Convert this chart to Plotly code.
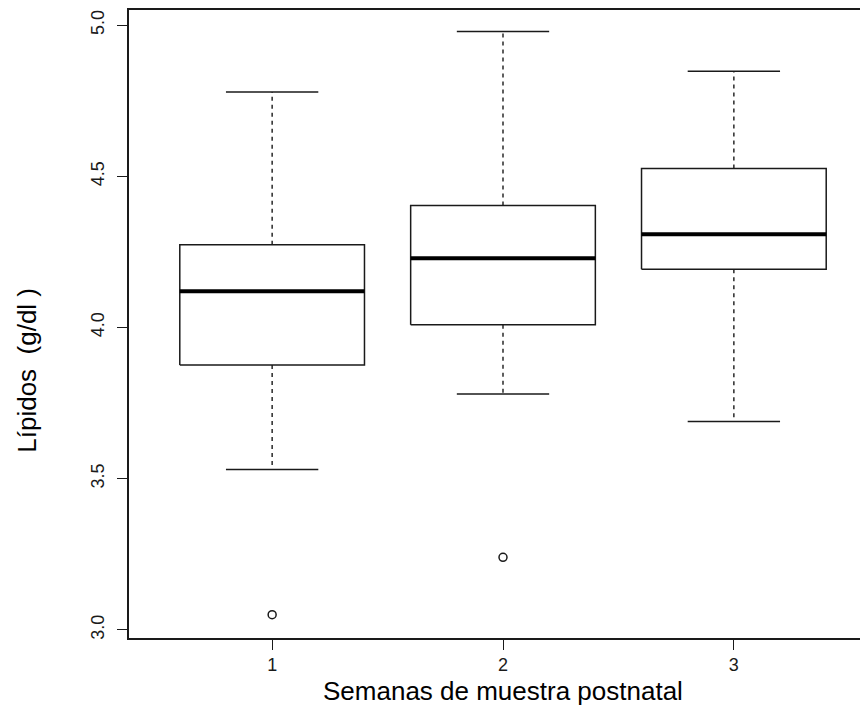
import plotly.graph_objects as go

# Data
weeks = [1, 2, 3]
week_labels = ["1", "2", "3"]
lower_whisker = [3.530, 3.780, 3.689]
q1 = [3.876, 4.009, 4.193]
median = [4.120, 4.229, 4.309]
q3 = [4.274, 4.404, 4.526]
upper_whisker = [4.779, 4.979, 4.848]
outlier_week = [1, 2]
outlier_value = [3.05, 3.24]
y_ticks = [3.0, 3.5, 4.0, 4.5, 5.0]
y_tick_labels = ["3.0", "3.5", "4.0", "4.5", "5.0"]

BOX_HALF = 0.4
CAP_HALF = 0.2
INK = "#1a1a1a"
FONT = "Liberation Sans, Arial, sans-serif"

fig = go.Figure()

for i, w in enumerate(weeks):
    # dashed whiskers
    fig.add_trace(go.Scatter(
        x=[w, w, None, w, w],
        y=[q3[i], upper_whisker[i], None, q1[i], lower_whisker[i]],
        mode="lines", line=dict(color=INK, width=1.4, dash="4px,4px"),
        hoverinfo="skip", showlegend=False))
    # whisker caps
    fig.add_trace(go.Scatter(
        x=[w - CAP_HALF, w + CAP_HALF, None, w - CAP_HALF, w + CAP_HALF],
        y=[upper_whisker[i], upper_whisker[i], None, lower_whisker[i], lower_whisker[i]],
        mode="lines", line=dict(color=INK, width=1.5),
        hoverinfo="skip", showlegend=False))
    # box
    fig.add_trace(go.Scatter(
        x=[w - BOX_HALF, w + BOX_HALF, w + BOX_HALF, w - BOX_HALF, w - BOX_HALF],
        y=[q1[i], q1[i], q3[i], q3[i], q1[i]],
        mode="lines", line=dict(color=INK, width=1.5),
        hoverinfo="skip", showlegend=False))
    # median
    fig.add_trace(go.Scatter(
        x=[w - BOX_HALF, w + BOX_HALF],
        y=[median[i], median[i]],
        mode="lines", line=dict(color="black", width=4),
        hoverinfo="skip", showlegend=False))

fig.add_trace(go.Scatter(
    x=outlier_week, y=outlier_value, mode="markers",
    marker=dict(symbol="circle-open", size=8, color=INK, line=dict(width=1.5)),
    hoverinfo="skip", showlegend=False))

fig.update_layout(
    width=860, height=698,
    margin=dict(l=121, r=0, t=0, b=68),
    paper_bgcolor="white", plot_bgcolor="white",
    font=dict(family=FONT, color=INK, size=18),
    xaxis=dict(range=[0.38, 3.581], tickvals=weeks, ticktext=week_labels,
               showgrid=False, zeroline=False, showline=True, mirror=True,
               linecolor=INK, linewidth=1.6, ticks="outside", ticklen=10,
               tickwidth=1.4, tickcolor=INK, tickfont=dict(size=18),
               ticklabelstandoff=0),
    yaxis=dict(range=[2.973, 5.0504], tickvals=y_ticks, ticktext=y_tick_labels,
               showgrid=False, zeroline=False, showline=True, mirror=False,
               linecolor=INK, linewidth=1.6, ticks="outside", ticklen=10,
               tickwidth=1.4, tickcolor=INK, tickangle=-90,
               tickfont=dict(size=18), ticklabelstandoff=6),
    annotations=[
        dict(text="Semanas de muestra postnatal", x=2, xref="x",
             y=-0.084, yref="paper", xanchor="center", yanchor="middle",
             showarrow=False, font=dict(size=26, color="black")),
        dict(text="Lípidos  (g/dl )", x=-0.138, xref="paper",
             y=0.4256, yref="paper", xanchor="center", yanchor="middle",
             textangle=-90, showarrow=False, font=dict(size=26, color="black")),
    ],
)

fig.write_html("out.html")
